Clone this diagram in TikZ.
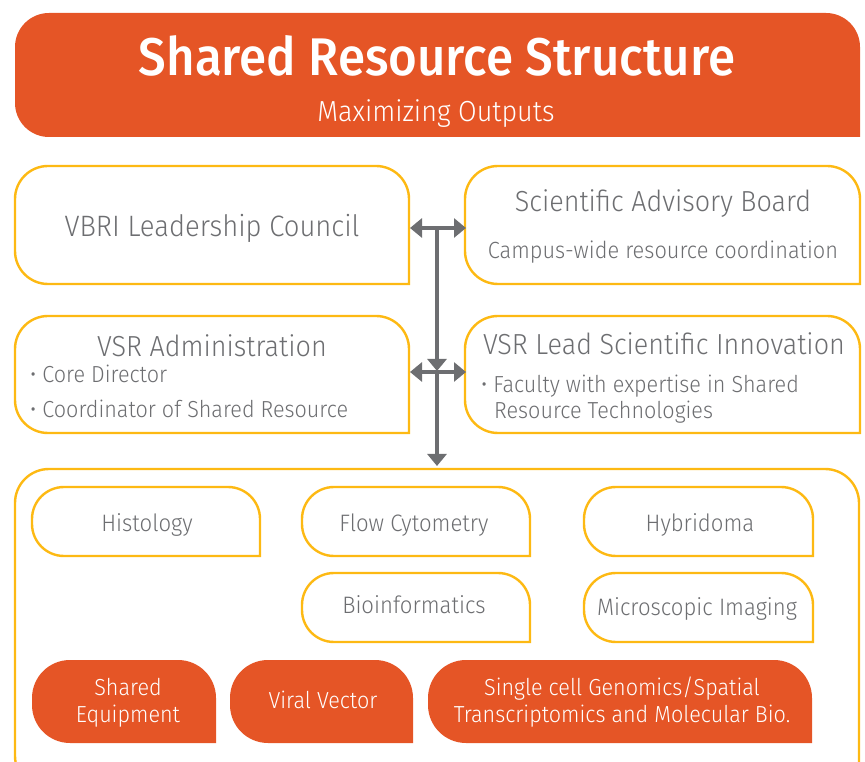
\documentclass[tikz,border=0pt]{standalone}
\usepackage{fontspec}
\setmainfont{Fira Sans}[UprightFont=* Light, BoldFont=* Medium, FakeStretch=0.93]
\usetikzlibrary{arrows.meta}
\definecolor{orng}{HTML}{E55526}
\definecolor{ylw}{HTML}{FDB913}
\definecolor{gry}{HTML}{6D6E71}
% #1 options, #2 x1, #3 top (px), #4 x2, #5 bottom (px), #6 radius
\newcommand\rbox[6]{%
\path[#1] (#4,{761-#5}) -- ({#2+#6},{761-#5}) arc[start angle=270,end angle=180,radius=#6]
 -- (#2,{761-#3-#6}) arc[start angle=180,end angle=90,radius=#6]
 -- ({#4-#6},{761-#3}) arc[start angle=90,end angle=0,radius=#6] -- cycle;}
\tikzset{
 obox/.style={draw=ylw,line width=2.4pt,fill=white},
 fbox/.style={fill=orng},
 gtxt/.style={text=gry,anchor=base,inner sep=0pt},
 wtxt/.style={text=white,anchor=base,inner sep=0pt},
 conn/.style={draw=gry,line width=3.2pt},
 tip/.style={-{Triangle[length=12pt,width=19pt]}},
 dtip/.style={{Triangle[length=12pt,width=19pt]}-{Triangle[length=12pt,width=19pt]}},
}
\begin{document}
\begin{tikzpicture}[x=1pt,y=1pt]
\useasboundingbox (0,0) rectangle (865,761);
\clip (0,0) rectangle (865,761);
% title
\rbox{fbox}{15}{13}{860}{137}{34}
\node[wtxt,font=\bfseries\fontsize{53}{60}\selectfont] (title) at (437,685) {Shared Resource Structure};
\node[wtxt,font=\fontsize{29}{34}\selectfont] (subtitle) at (436,639) {Maximizing Outputs};
% upper boxes
\rbox{obox}{15}{166}{409}{284}{33}
\rbox{obox}{465}{166}{860}{284}{33}
\rbox{obox}{15}{316}{409}{433}{33}
\rbox{obox}{465}{316}{860}{433}{33}
\node[gtxt,font=\fontsize{29.5}{34}\selectfont] (vbri) at (212,524) {VBRI Leadership Council};
\node[gtxt,font=\fontsize{29}{34}\selectfont] (sab) at (663,549) {Scientific Advisory Board};
\node[gtxt,font=\fontsize{23.4}{27}\selectfont] (campus) at (663,502) {Campus-wide resource coordination};
\node[gtxt,font=\fontsize{29}{34}\selectfont] (vsradm) at (212,404) {VSR Administration};
\node[gtxt,font=\fontsize{23.2}{26}\selectfont,anchor=base west] (core) at (30,378) {\textbullet\ Core Director};
\node[gtxt,font=\fontsize{23.2}{26}\selectfont,anchor=base west] (coord) at (30,343) {\textbullet\ Coordinator of Shared Resource};
\node[gtxt,font=\fontsize{29}{34}\selectfont] (vsrlead) at (664,406) {VSR Lead Scientific Innovation};
\node[gtxt,font=\fontsize{23.2}{26}\selectfont,anchor=base west] (fac) at (481,368) {\textbullet\ Faculty with expertise in Shared};
\node[gtxt,font=\fontsize{23.2}{26}\selectfont,anchor=base west] (fac2) at (494,342) {Resource Technologies};
% connectors
\coordinate (vbriE) at (410,533);
\coordinate (sabW) at (466,533);
\coordinate (admE) at (410,389);
\coordinate (leadW) at (466,389);
\coordinate (j1) at (437,533);
\coordinate (j2) at (437,390);
\coordinate (contN) at (437,295);
\draw[conn,dtip] (vbriE) -- (sabW);
\draw[conn,dtip] (admE) -- (leadW);
\draw[conn,tip] (j1) -- (j2);
\draw[conn,tip] (j2) -- (contN);
% container
\rbox{obox,fill=none}{15}{469}{859}{790}{34}
\rbox{obox}{32}{487}{260}{556}{32}
\rbox{obox}{302}{487}{530}{556}{32}
\rbox{obox}{584}{487}{813}{556}{32}
\rbox{obox}{302}{573}{530}{642}{32}
\rbox{obox}{584}{573}{813}{642}{32}
\rbox{fbox}{32}{660}{216}{743}{38}
\rbox{fbox}{230}{660}{413}{743}{38}
\rbox{fbox}{428}{660}{812}{743}{38}
\node[gtxt,font=\fontsize{23.8}{27}\selectfont] (hist) at (147,229) {Histology};
\node[gtxt,font=\fontsize{23.8}{27}\selectfont] (flow) at (414,229) {Flow Cytometry};
\node[gtxt,font=\fontsize{23.8}{27}\selectfont] (hyb) at (700,229) {Hybridoma};
\node[gtxt,font=\fontsize{23.8}{27}\selectfont] (bio) at (414,147) {Bioinformatics};
\node[gtxt,font=\fontsize{23.8}{27}\selectfont] (micro) at (697,146) {Microscopic Imaging};
\node[wtxt,font=\fontsize{23.2}{27}\selectfont] (sh1) at (128,66) {Shared};
\node[wtxt,font=\fontsize{23.2}{27}\selectfont] (sh2) at (128,39) {Equipment};
\node[wtxt,font=\fontsize{23.2}{27}\selectfont] (viral) at (323,53) {Viral Vector};
\node[wtxt,font=\fontsize{23.2}{27}\selectfont] (sc1) at (622,66) {Single cell Genomics/Spatial};
\node[wtxt,font=\fontsize{23.2}{27}\selectfont] (sc2) at (622,39) {Transcriptomics and Molecular Bio.};
\end{tikzpicture}
\end{document}
